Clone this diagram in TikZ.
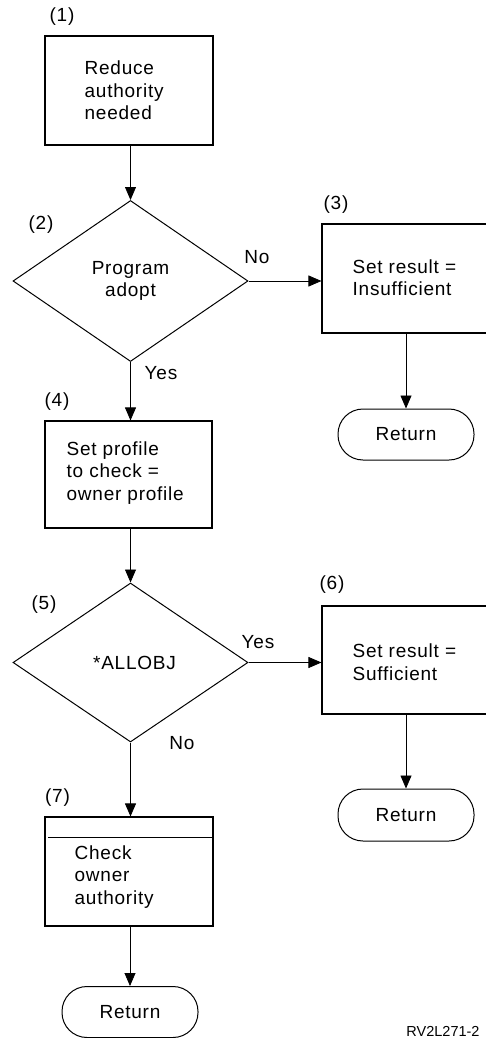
\documentclass[tikz,border=0pt]{standalone}
\usepackage{fontspec}
\setmainfont{Liberation Sans}[LetterSpace=4]
\newfontfamily\tagfont{Liberation Sans}
\usetikzlibrary{shapes.geometric,arrows.meta}
\begin{document}
\begin{tikzpicture}[x=1pt,y=-1pt,
  every node/.style={font=\fontsize{19}{22.5}\selectfont},
  stepbox/.style={draw,line width=1.1pt,minimum width=168pt,minimum height=109pt,inner sep=0pt},
  openbox/.style={draw,line width=1.1pt,minimum width=190pt,minimum height=109pt,inner sep=0pt},
  decision/.style={draw,line width=1pt,shape=diamond,minimum width=235pt,minimum height=161pt,inner sep=0pt,align=center},
  terminal/.style={draw,line width=1pt,rounded corners=25pt,minimum width=136pt,minimum height=51pt,inner sep=0pt},
  txt/.style={align=left,inner sep=0pt,anchor=west},
  tag/.style={inner sep=0pt},
  flow/.style={line width=0.8pt,-{Triangle[width=11pt,length=13pt]}}
]
\useasboundingbox (0,0) rectangle (486,1038);
\clip (0,0) rectangle (486,1038);

% process boxes
\node[stepbox] (b1) at (129,90.5) {};
\node[txt] (t1) at ([xshift=40pt]b1.west) {Reduce\\authority\\needed};
\node[stepbox,minimum width=167pt,minimum height=107pt] (b4) at (128.5,474.5) {};
\node[txt] (t4) at ([xshift=22pt,yshift=1.5pt]b4.west) {Set profile\\to check =\\owner profile};
\node[stepbox] (b7) at (129,871.5) {};
\node[txt] (t7) at ([xshift=30pt,yshift=-5.5pt]b7.west) {Check\\owner\\authority};
\draw[line width=0.8pt] ([xshift=4pt,yshift=-21pt]b7.north west) -- ([xshift=-2pt,yshift=-21pt]b7.north east);

% result boxes running off the right edge
\node[openbox] (b3) at (417,278.5) {};
\node[txt] (t3) at ([xshift=31pt,yshift=1pt]b3.west) {Set result =\\Insufficient};
\node[openbox,minimum height=108pt] (b6) at (417,660) {};
\node[txt] (t6) at ([xshift=31pt,yshift=-2pt]b6.west) {Set result =\\Sufficient};

% decisions
\node[decision] (d2) at (130.5,281) {Program\\adopt};
\node[decision,minimum height=159pt] (d5) at (130.5,662.5) {\hspace*{8pt}*ALLOBJ};

% terminals
\node[terminal] (r3) at (406,434.5) {Return};
\node[terminal,minimum height=52pt] (r6) at (406,815) {Return};
\node[terminal] (r7) at (130,1012) {Return};

% step numbers
\node[tag] (n1) at (62,17) {(1)};
\node[tag] (n2) at (41,225) {(2)};
\node[tag] (n3) at (336,205) {(3)};
\node[tag] (n4) at (57,402) {(4)};
\node[tag] (n5) at (44,605) {(5)};
\node[tag] (n6) at (332,585) {(6)};
\node[tag] (n7) at (57.5,798) {(7)};

% branch labels
\node[tag] (l2n) at (257,257) {No};
\node[tag] (l2y) at (161,373) {Yes};
\node[tag] (l5y) at (258,642) {Yes};
\node[tag] (l5n) at (182,743) {No};

% connectors
\draw[flow] (b1.south -| d2.north) -- (d2.north);
\draw[flow] (d2.east) -- (b3.west |- d2.east);
\draw[flow] (b3.south -| r3.north) -- (r3.north);
\draw[flow] (d2.south) -- (b4.north -| d2.south);
\draw[flow] (b4.south -| d5.north) -- (d5.north);
\draw[flow] (d5.east) -- (b6.west |- d5.east);
\draw[flow] (b6.south -| r6.north) -- (r6.north);
\draw[flow] (d5.south) -- (b7.north -| d5.south);
\draw[flow] (b7.south -| r7.north) -- (r7.north);

% figure id
\node[tag,font=\tagfont\fontsize{14.5}{17}\selectfont] (fid) at (443,1031) {RV2L271-2};
\end{tikzpicture}
\end{document}
